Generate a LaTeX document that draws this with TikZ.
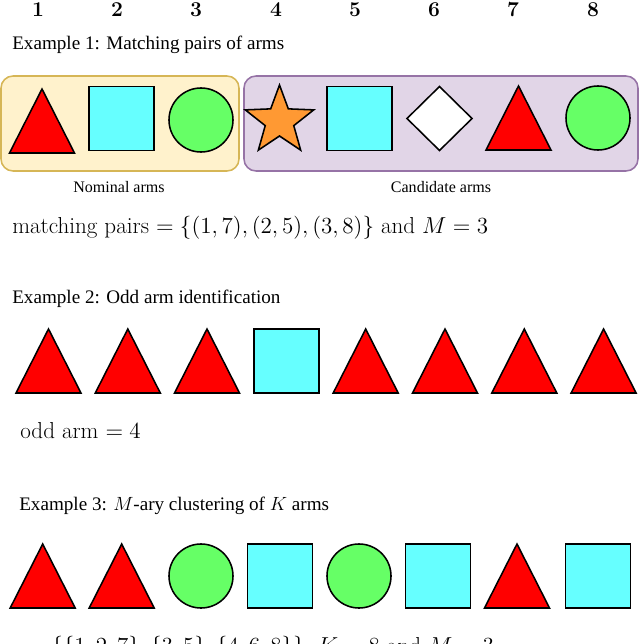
\RequirePackage{fix-cm}
\documentclass[tikz,border=0pt]{standalone}
\usepackage{fontspec}
\newfontfamily\timesfont{Liberation Serif}
\usepackage{tikz}
\usetikzlibrary{positioning}
\usepackage{xcolor}
\definecolor{armred}{RGB}{255,0,0}
\definecolor{armcyan}{RGB}{102,255,255}
\definecolor{armgreen}{RGB}{102,255,102}
\definecolor{armorange}{RGB}{255,153,51}
\definecolor{nomfill}{RGB}{255,242,204}
\definecolor{nomdraw}{RGB}{214,182,86}
\definecolor{candfill}{RGB}{225,213,231}
\definecolor{canddraw}{RGB}{150,115,166}

\begin{document}
\begin{tikzpicture}[
  x=0.025cm, y=-0.025cm,
  arm/.style={draw=black, line width=1.1pt, line join=miter},
  tri/.pic={\draw[arm, fill=armred] (-32.5,32) -- (0,-32) -- (32.5,32) -- cycle;},
  sq/.pic={\draw[arm, fill=armcyan] (-32.5,-32) rectangle (32.5,32);},
  circ/.pic={\draw[arm, fill=armgreen] (0,0) circle[radius=0.8cm];},
  diam/.pic={\draw[arm, fill=white] (-32.5,0) -- (0,-32) -- (32.5,0) -- (0,32) -- cycle;},
  starr/.pic={\draw[arm, fill=armorange] (-90:36) -- (-54:15) -- (-18:36) -- (18:15) -- (54:36) -- (90:15) -- (126:36) -- (162:15) -- (198:36) -- (234:15) -- cycle;},
  group/.style={rounded corners=0.3cm, line width=1.1pt},
  idx/.style={font=\bfseries\fontsize{15}{18}\selectfont, anchor=base, inner sep=0},
  hdr/.style={font=\timesfont\fontsize{13.6}{16}\selectfont, anchor=base west, inner sep=0},
  lbl/.style={font=\timesfont\fontsize{11.4}{14}\selectfont, inner sep=0},
  res/.style={font=\fontsize{16.4}{19}\selectfont, anchor=base west, inner sep=0}
]
\useasboundingbox (0,0) rectangle (640,644);

\node[idx] (n1) at (38,17) {1};
\node[idx] (n2) at (117,17) {2};
\node[idx] (n3) at (196,17) {3};
\node[idx] (n4) at (276,17) {4};
\node[idx] (n5) at (355,17) {5};
\node[idx] (n6) at (434,17) {6};
\node[idx] (n7) at (513,17) {7};
\node[idx] (n8) at (593,17) {8};

\node[hdr] (ex1) at (12,50) {Example 1: Matching pairs of arms};
\draw[group, draw=nomdraw, fill=nomfill] (1,76) rectangle (239,171);
\draw[group, draw=canddraw, fill=candfill] (244,76) rectangle (638,171);
\pic (a1) at (42,121) {tri};
\pic (a2) at (121.5,118.5) {sq};
\pic (a3) at (201,120) {circ};
\pic (a4) at (279.5,121) {starr};
\pic (a5) at (359.5,118.5) {sq};
\pic (a6) at (439.5,118.5) {diam};
\pic (a7) at (518.5,118) {tri};
\pic (a8) at (598,118) {circ};
\node[lbl] (nominal) at (119,187) {Nominal arms};
\node[lbl] (candidate) at (441,187) {Candidate arms};
\node[res] (pairs) at (12,233) {matching pairs $=\{(1,7),(2,5),(3,8)\}$ and $M=3$};

\node[hdr] (ex2) at (12,303) {Example 2: Odd arm identification};
\pic (b1) at (48.5,361) {tri};
\pic (b2) at (127.8,361) {tri};
\pic (b3) at (207,361) {tri};
\pic (b4) at (286.4,361) {sq};
\pic (b5) at (365.7,361) {tri};
\pic (b6) at (445,361) {tri};
\pic (b7) at (524.3,361) {tri};
\pic (b8) at (603.6,361) {tri};
\node[res] (odd) at (20,438) {odd arm $=4$};

\node[hdr] (ex3) at (19,510) {Example 3: $M$-ary clustering of $K$ arms};
\pic (c1) at (42.7,576) {tri};
\pic (c2) at (121.7,576) {tri};
\pic (c3) at (201,576) {circ};
\pic (c4) at (280,576) {sq};
\pic (c5) at (359,576) {circ};
\pic (c6) at (438,576) {sq};
\pic (c7) at (517,576) {tri};
\pic (c8) at (598,576) {sq};
\node[res] (clusters) at (51,653) {$\{\{1,2,7\},\{3,5\},\{4,6,8\}\}$, $K=8$ and $M=3$};
\end{tikzpicture}
\end{document}
